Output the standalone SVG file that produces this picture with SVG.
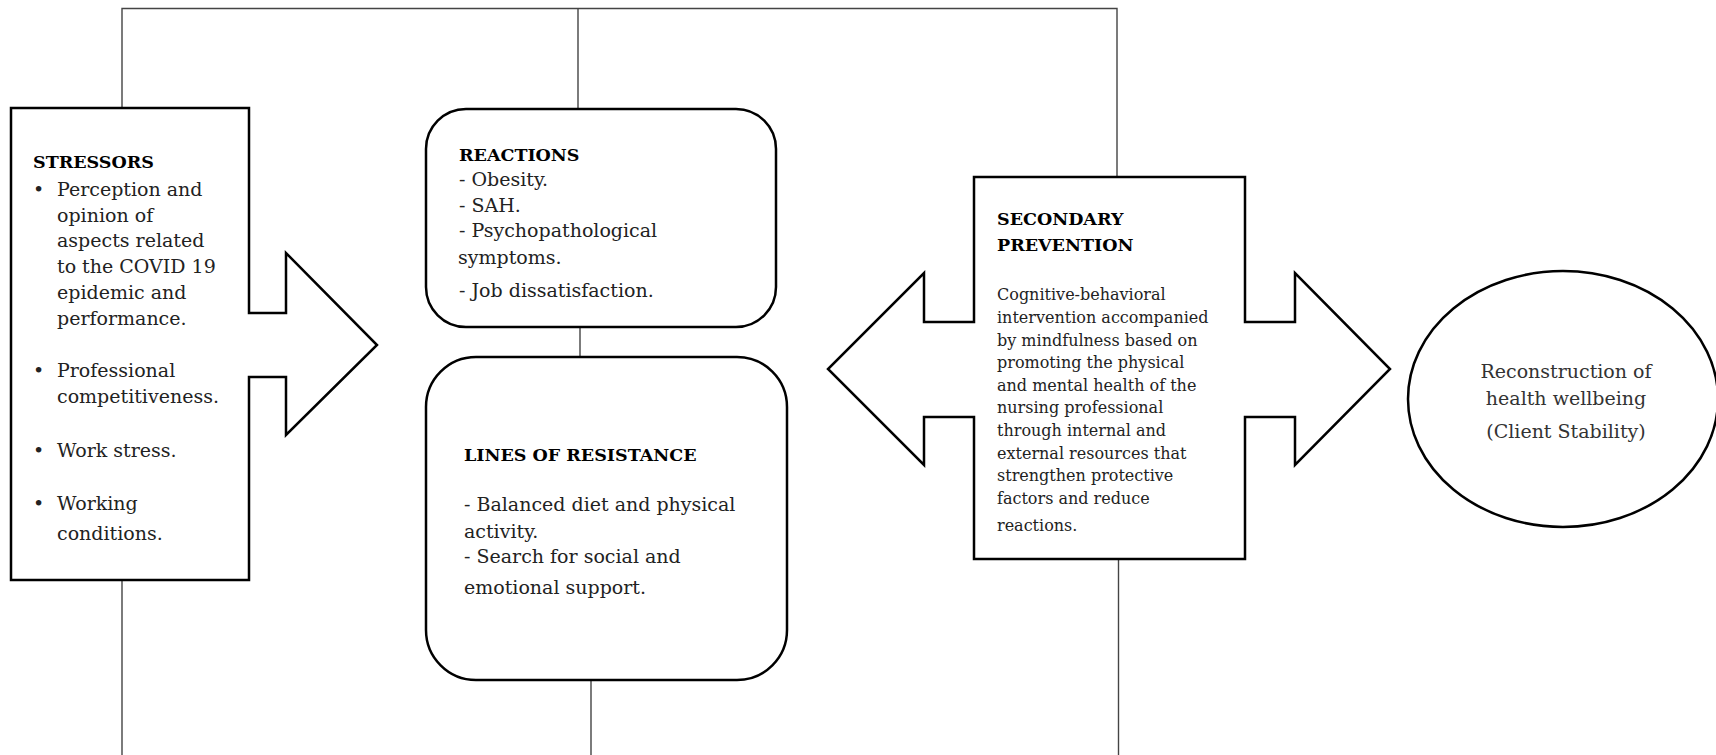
<svg xmlns="http://www.w3.org/2000/svg" width="1716" height="755" viewBox="0 0 1716 755">
<style>
.shape{fill:#fff;stroke:#000;stroke-width:2.5;stroke-linejoin:miter}
.conn{fill:none;stroke:#444;stroke-width:1.4}
text{font-family:"DejaVu Serif","Liberation Serif",serif;fill:#222}
.h{font-weight:bold;font-size:17.5px;fill:#000}
.b{font-size:19px}
.s{font-size:16px}
.e{font-size:19px;text-anchor:middle;fill:#333}
</style>
<rect width="1716" height="755" fill="#fff"/>
<g id="connectors">
<path class="conn" d="M122,108 V8.5 H1117 V177"/>
<path class="conn" d="M578,8.5 V109"/>
<path class="conn" d="M580,327 V357"/>
<path class="conn" d="M591,680 V755"/>
<path class="conn" d="M122,580 V755"/>
<path class="conn" d="M1118.5,559 V755"/>
</g>
<g id="stressors">
<polygon class="shape" points="11,108 249,108 249,313 286,313 286,253 377,345 286,435 286,377 249,377 249,580 11,580"/>
<text class="h" x="33" y="168">STRESSORS</text>
<g class="b">
<text x="33" y="196">•</text>
<text x="57" y="196">Perception and</text>
<text x="57" y="221.5">opinion of</text>
<text x="57" y="247">aspects related</text>
<text x="57" y="272.5">to the COVID 19</text>
<text x="57" y="298.5">epidemic and</text>
<text x="57" y="324.5">performance.</text>
<text x="33" y="377">•</text>
<text x="57" y="377">Professional</text>
<text x="57" y="402.5">competitiveness.</text>
<text x="33" y="456.5">•</text>
<text x="57" y="456.5">Work stress.</text>
<text x="33" y="510">•</text>
<text x="57" y="510">Working</text>
<text x="57" y="540">conditions.</text>
</g>
</g>
<g id="reactions">
<rect class="shape" x="426" y="109" width="350" height="218" rx="40" ry="40"/>
<text class="h" x="459" y="161">REACTIONS</text>
<text class="b" x="459" y="186">- Obesity.</text>
<text class="b" x="459" y="211.5">- SAH.</text>
<text class="b" x="459" y="237">- Psychopathological</text>
<text class="b" x="458" y="264">symptoms.</text>
<text class="b" x="459" y="296.5">- Job dissatisfaction.</text>
</g>
<g id="lines-of-resistance">
<rect class="shape" x="426" y="357" width="361" height="323" rx="50" ry="50"/>
<text class="h" x="464" y="460.5">LINES OF RESISTANCE</text>
<text class="b" x="464" y="511">- Balanced diet and physical</text>
<text class="b" x="464" y="538">activity.</text>
<text class="b" x="464" y="562.5">- Search for social and</text>
<text class="b" x="464" y="594">emotional support.</text>
</g>
<g id="secondary-prevention">
<polygon class="shape" points="974,177 1245,177 1245,322 1295,322 1295,273 1390,369 1295,465 1295,417 1245,417 1245,559 974,559 974,417 924,417 924,465 828,369 924,273 924,322 974,322"/>
<text class="h" x="997" y="225">SECONDARY</text>
<text class="h" x="997" y="250.5">PREVENTION</text>
<g class="s">
<text x="997" y="300">Cognitive-behavioral</text>
<text x="997" y="323">intervention accompanied</text>
<text x="997" y="345.5">by mindfulness based on</text>
<text x="997" y="368">promoting the physical</text>
<text x="997" y="390.5">and mental health of the</text>
<text x="997" y="413">nursing professional</text>
<text x="997" y="436">through internal and</text>
<text x="997" y="458.5">external resources that</text>
<text x="997" y="481">strengthen protective</text>
<text x="997" y="503.5">factors and reduce</text>
<text x="997" y="530.5">reactions.</text>
</g>
</g>
<g id="client-stability">
<ellipse class="shape" cx="1563" cy="399" rx="155" ry="128"/>
<text class="e" x="1566" y="378">Reconstruction of</text>
<text class="e" x="1566" y="405">health wellbeing</text>
<text class="e" x="1566" y="438">(Client Stability)</text>
</g>
</svg>
